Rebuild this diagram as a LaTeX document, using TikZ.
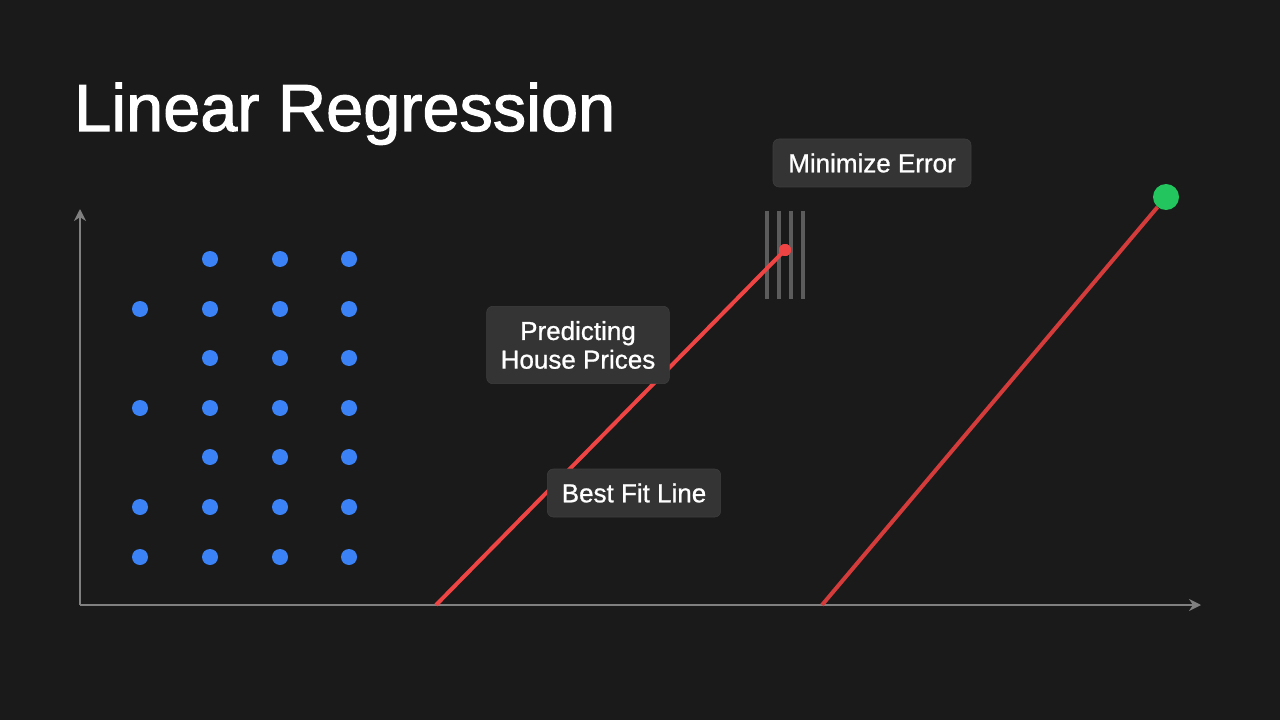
\documentclass[tikz,border=0pt]{standalone}
\usepackage{fontspec}
\setmainfont{Liberation Sans}
\newfontfamily\heavyface{Liberation Sans}[FakeBold=1.6]
\newfontfamily\tagface{Liberation Sans}[FakeBold=0.9]
\usepackage{xcolor}
\definecolor{SlateBg}{RGB}{26,26,26}
\definecolor{AxisGrey}{RGB}{128,128,128}
\definecolor{BarGrey}{RGB}{92,92,92}
\definecolor{BoxGrey}{RGB}{52,52,52}
\definecolor{BoxEdge}{RGB}{62,62,62}
\definecolor{DataBlue}{RGB}{59,130,246}
\definecolor{FitRed}{RGB}{239,68,68}
\definecolor{FitRedDark}{RGB}{212,60,60}
\definecolor{GoalGreen}{RGB}{34,197,94}
\usetikzlibrary{positioning, arrows.meta}

\begin{document}
\begin{tikzpicture}[x=0.75pt, y=-0.75pt]
    \tikzset{
        datapt/.style={circle, fill=DataBlue, inner sep=0pt, minimum size=12pt},
        reddot/.style={circle, fill=FitRed, inner sep=0pt, minimum size=9pt},
        greendot/.style={circle, fill=GoalGreen, inner sep=0pt, minimum size=19.5pt},
        tagbox/.style={rectangle, rounded corners=4.5pt, draw=BoxEdge, fill=BoxGrey,
            text=white, align=center, inner xsep=10pt, minimum height=36pt,
            font=\tagface\fontsize{19.5}{21.5}\selectfont},
        axisline/.style={draw=AxisGrey, line width=1.5pt, -{Stealth[length=9pt, width=9pt]}},
        fitline/.style={line width=3pt, draw=FitRed},
        errbar/.style={line width=3pt, draw=BarGrey}
    }
    \fill[SlateBg] (0,0) rectangle (1280,720);
    \useasboundingbox (0,0) rectangle (1280,720);
    \node[anchor=base west, inner sep=0pt, text=white,
        font=\heavyface\fontsize{50}{56}\selectfont] (title) at (74,131) {Linear Regression};
    % axes
    \coordinate (origin) at (80,605);
    \coordinate (ytop) at (80,209);
    \coordinate (xend) at (1201,605);
    \draw[axisline] (origin) -- (ytop);
    \draw[axisline] (origin) -- (xend);
    % data points
    \node[datapt] (p11) at (140,309) {};
    \node[datapt] (p12) at (140,408) {};
    \node[datapt] (p13) at (140,507) {};
    \node[datapt] (p14) at (140,557) {};
    \node[datapt] (p21) at (210,259) {};
    \node[datapt] (p22) at (210,309) {};
    \node[datapt] (p23) at (210,358) {};
    \node[datapt] (p24) at (210,408) {};
    \node[datapt] (p25) at (210,457) {};
    \node[datapt] (p26) at (210,507) {};
    \node[datapt] (p27) at (210,557) {};
    \node[datapt] (p31) at (280,259) {};
    \node[datapt] (p32) at (280,309) {};
    \node[datapt] (p33) at (280,358) {};
    \node[datapt] (p34) at (280,408) {};
    \node[datapt] (p35) at (280,457) {};
    \node[datapt] (p36) at (280,507) {};
    \node[datapt] (p37) at (280,557) {};
    \node[datapt] (p41) at (349,259) {};
    \node[datapt] (p42) at (349,309) {};
    \node[datapt] (p43) at (349,358) {};
    \node[datapt] (p44) at (349,408) {};
    \node[datapt] (p45) at (349,457) {};
    \node[datapt] (p46) at (349,507) {};
    \node[datapt] (p47) at (349,557) {};
    % error bars
    \draw[errbar] (767,211) -- (767,299);
    \draw[errbar] (779,211) -- (779,299);
    \draw[errbar] (791,211) -- (791,299);
    \draw[errbar] (803,211) -- (803,299);
    % fit lines
    \coordinate (fitAstart) at (436,605);
    \coordinate (fitBstart) at (822,605);
    \node[reddot] (fitAend) at (785,250) {};
    \node[greendot] (fitBend) at (1166,197) {};
    \draw[fitline] (fitAstart) -- (fitAend.center);
    \draw[fitline, draw=FitRedDark] (fitBstart) -- (fitBend);
    \node[reddot] at (fitAend) {};
    % labels
    \node[tagbox, minimum width=148.5pt] (minerr) at (872,163) {Minimize Error};
    \node[tagbox, minimum width=137pt, minimum height=58pt] (houses) at (578,345)
        {Predicting\\House Prices};
    \node[tagbox, minimum width=130pt] (bestfit) at (634,493) {Best Fit Line};
\end{tikzpicture}
\end{document}
